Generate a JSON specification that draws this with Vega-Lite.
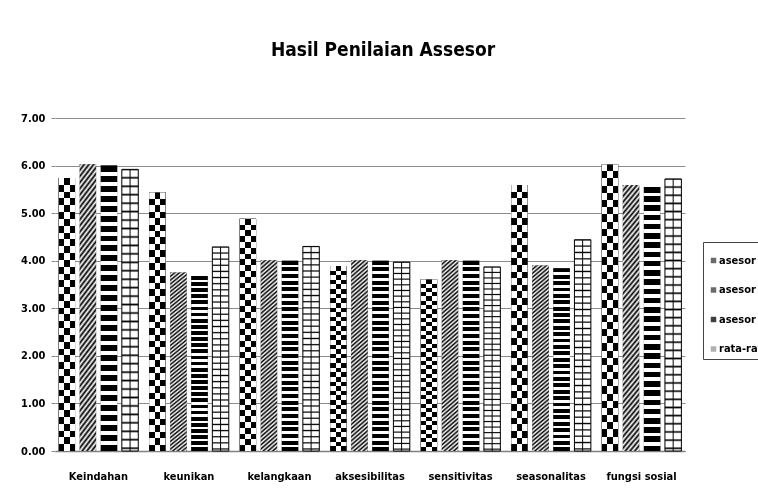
{
  "$schema": "https://vega.github.io/schema/vega-lite/v6.json",
  "width": 630,
  "height": 333,
  "autosize": {"type": "none"},
  "padding": {"left": 55, "top": 118, "right": 73, "bottom": 53},
  "background": "white",
  "config": {
    "font": "Liberation Sans Narrow, DejaVu Sans Condensed, Roboto, sans-serif",
    "view": {"stroke": null}
  },
  "title": {
    "text": "Hasil Penilaian Assesor",
    "fontSize": 19,
    "fontWeight": "bold",
    "color": "black",
    "anchor": "middle",
    "frame": "group",
    "baseline": "alphabetic",
    "offset": 37,
    "dx": 13
  },
  "data": {
    "values": [
      {"k": "Keindahan", "s": "asesor 1", "v": 5.74},
      {"k": "Keindahan", "s": "asesor 2", "v": 6.03},
      {"k": "Keindahan", "s": "asesor 3", "v": 6.0},
      {"k": "Keindahan", "s": "rata-rata", "v": 5.92},
      {"k": "keunikan", "s": "asesor 1", "v": 5.44},
      {"k": "keunikan", "s": "asesor 2", "v": 3.75},
      {"k": "keunikan", "s": "asesor 3", "v": 3.68},
      {"k": "keunikan", "s": "rata-rata", "v": 4.29},
      {"k": "kelangkaan", "s": "asesor 1", "v": 4.88},
      {"k": "kelangkaan", "s": "asesor 2", "v": 4.01},
      {"k": "kelangkaan", "s": "asesor 3", "v": 4.0},
      {"k": "kelangkaan", "s": "rata-rata", "v": 4.3},
      {"k": "aksesibilitas", "s": "asesor 1", "v": 3.89},
      {"k": "aksesibilitas", "s": "asesor 2", "v": 4.01},
      {"k": "aksesibilitas", "s": "asesor 3", "v": 4.0},
      {"k": "aksesibilitas", "s": "rata-rata", "v": 3.97},
      {"k": "sensitivitas", "s": "asesor 1", "v": 3.61},
      {"k": "sensitivitas", "s": "asesor 2", "v": 4.01},
      {"k": "sensitivitas", "s": "asesor 3", "v": 4.0},
      {"k": "sensitivitas", "s": "rata-rata", "v": 3.87},
      {"k": "seasonalitas", "s": "asesor 1", "v": 5.59},
      {"k": "seasonalitas", "s": "asesor 2", "v": 3.9},
      {"k": "seasonalitas", "s": "asesor 3", "v": 3.84},
      {"k": "seasonalitas", "s": "rata-rata", "v": 4.44},
      {"k": "fungsi sosial", "s": "asesor 1", "v": 6.03},
      {"k": "fungsi sosial", "s": "asesor 2", "v": 5.59},
      {"k": "fungsi sosial", "s": "asesor 3", "v": 5.55},
      {"k": "fungsi sosial", "s": "rata-rata", "v": 5.72}
    ]
  },
  "encoding": {
    "x": {
      "field": "k",
      "type": "nominal",
      "sort": ["Keindahan", "keunikan", "kelangkaan", "aksesibilitas", "sensitivitas", "seasonalitas", "fungsi sosial"],
      "scale": {"paddingInner": 0.12, "paddingOuter": 0.04},
      "axis": {
        "title": null,
        "labelAngle": 0,
        "ticks": false,
        "domainColor": "#808080",
        "domainWidth": 1.5,
        "labelFontSize": 11,
        "labelFontWeight": "bold",
        "labelColor": "black",
        "labelPadding": 19,
        "grid": false
      }
    },
    "xOffset": {
      "field": "s",
      "type": "nominal",
      "scale": {"domain": ["asesor 1", "asesor 2", "asesor 3", "rata-rata"], "paddingInner": 0.22, "paddingOuter": 0}
    },
    "y": {
      "field": "v",
      "type": "quantitative",
      "scale": {"domain": [0, 7], "nice": false},
      "axis": {
        "title": null,
        "values": [0, 1, 2, 3, 4, 5, 6, 7],
        "format": ".2f",
        "domain": false,
        "ticks": true,
        "tickSize": 4,
        "tickColor": "#8c8c8c",
        "gridColor": "#8c8c8c",
        "gridWidth": 1,
        "labelPadding": 6,
        "labelFontSize": 11,
        "labelFontWeight": "bold",
        "labelColor": "black"
      }
    }
  },
  "layer": [
    {
      "mark": {"type": "bar"},
      "encoding": {
        "color": {
          "field": "s",
          "type": "nominal",
          "scale": {"domain": ["asesor 1", "asesor 2", "asesor 3", "rata-rata"], "range": ["#6a6a6a", "#6a6a6a", "#404040", "#b0b0b0"]},
          "legend": {
            "orient": "none",
            "legendX": 648,
            "legendY": 124,
            "title": " ",
            "titleFontSize": 8,
            "titlePadding": 0,
            "padding": 5,
            "strokeColor": "#444",
            "fillColor": "white",
            "symbolType": "square",
            "symbolSize": 30,
            "symbolStrokeWidth": 0,
            "labelFontSize": 11,
            "labelFontWeight": "bold",
            "labelColor": "black",
            "labelOffset": 0,
            "rowPadding": 17.5
          }
        }
      }
    },
    {
      "transform": [{"filter": "datum.s === 'asesor 1'"}],
      "mark": {
        "type": "bar",
        "fill": {"gradient": "linear", "x1": 0, "y1": 0, "x2": 1, "y2": 0, "stops": [
          {"offset": 0, "color": "black"}, {"offset": 0.333, "color": "black"}, {"offset": 0.333, "color": "white"},
          {"offset": 0.667, "color": "white"}, {"offset": 0.667, "color": "black"}, {"offset": 1, "color": "black"}
        ]}
      }
    },
    {
      "transform": [{"filter": "datum.s === 'asesor 1'"}],
      "mark": {
        "type": "bar",
        "blend": "difference",
        "fill": {"gradient": "linear", "x1": 0, "y1": 0, "x2": 0, "y2": 1, "stops": [
          {"offset": 0, "color": "white"}, {"offset": 0.025, "color": "white"}, {"offset": 0.025, "color": "black"}, {"offset": 0.05, "color": "black"},
          {"offset": 0.05, "color": "white"}, {"offset": 0.075, "color": "white"}, {"offset": 0.075, "color": "black"}, {"offset": 0.1, "color": "black"},
          {"offset": 0.1, "color": "white"}, {"offset": 0.125, "color": "white"}, {"offset": 0.125, "color": "black"}, {"offset": 0.15, "color": "black"},
          {"offset": 0.15, "color": "white"}, {"offset": 0.175, "color": "white"}, {"offset": 0.175, "color": "black"}, {"offset": 0.2, "color": "black"},
          {"offset": 0.2, "color": "white"}, {"offset": 0.225, "color": "white"}, {"offset": 0.225, "color": "black"}, {"offset": 0.25, "color": "black"},
          {"offset": 0.25, "color": "white"}, {"offset": 0.275, "color": "white"}, {"offset": 0.275, "color": "black"}, {"offset": 0.3, "color": "black"},
          {"offset": 0.3, "color": "white"}, {"offset": 0.325, "color": "white"}, {"offset": 0.325, "color": "black"}, {"offset": 0.35, "color": "black"},
          {"offset": 0.35, "color": "white"}, {"offset": 0.375, "color": "white"}, {"offset": 0.375, "color": "black"}, {"offset": 0.4, "color": "black"},
          {"offset": 0.4, "color": "white"}, {"offset": 0.425, "color": "white"}, {"offset": 0.425, "color": "black"}, {"offset": 0.45, "color": "black"},
          {"offset": 0.45, "color": "white"}, {"offset": 0.475, "color": "white"}, {"offset": 0.475, "color": "black"}, {"offset": 0.5, "color": "black"},
          {"offset": 0.5, "color": "white"}, {"offset": 0.525, "color": "white"}, {"offset": 0.525, "color": "black"}, {"offset": 0.55, "color": "black"},
          {"offset": 0.55, "color": "white"}, {"offset": 0.575, "color": "white"}, {"offset": 0.575, "color": "black"}, {"offset": 0.6, "color": "black"},
          {"offset": 0.6, "color": "white"}, {"offset": 0.625, "color": "white"}, {"offset": 0.625, "color": "black"}, {"offset": 0.65, "color": "black"},
          {"offset": 0.65, "color": "white"}, {"offset": 0.675, "color": "white"}, {"offset": 0.675, "color": "black"}, {"offset": 0.7, "color": "black"},
          {"offset": 0.7, "color": "white"}, {"offset": 0.725, "color": "white"}, {"offset": 0.725, "color": "black"}, {"offset": 0.75, "color": "black"},
          {"offset": 0.75, "color": "white"}, {"offset": 0.775, "color": "white"}, {"offset": 0.775, "color": "black"}, {"offset": 0.8, "color": "black"},
          {"offset": 0.8, "color": "white"}, {"offset": 0.825, "color": "white"}, {"offset": 0.825, "color": "black"}, {"offset": 0.85, "color": "black"},
          {"offset": 0.85, "color": "white"}, {"offset": 0.875, "color": "white"}, {"offset": 0.875, "color": "black"}, {"offset": 0.9, "color": "black"},
          {"offset": 0.9, "color": "white"}, {"offset": 0.925, "color": "white"}, {"offset": 0.925, "color": "black"}, {"offset": 0.95, "color": "black"},
          {"offset": 0.95, "color": "white"}, {"offset": 0.975, "color": "white"}, {"offset": 0.975, "color": "black"}, {"offset": 1, "color": "black"}
        ]}
      }
    },
    {
      "transform": [{"filter": "datum.s === 'asesor 2'"}],
      "mark": {
        "type": "bar",
        "fill": {"gradient": "linear", "x1": 0, "y1": 0, "x2": 0.08, "y2": 1.07, "stops": [
          {"offset": 0, "color": "black"}, {"offset": 0.01, "color": "white"}, {"offset": 0.02, "color": "black"}, {"offset": 0.03, "color": "white"},
          {"offset": 0.04, "color": "black"}, {"offset": 0.05, "color": "white"}, {"offset": 0.06, "color": "black"}, {"offset": 0.07, "color": "white"},
          {"offset": 0.08, "color": "black"}, {"offset": 0.09, "color": "white"}, {"offset": 0.1, "color": "black"}, {"offset": 0.11, "color": "white"},
          {"offset": 0.12, "color": "black"}, {"offset": 0.13, "color": "white"}, {"offset": 0.14, "color": "black"}, {"offset": 0.15, "color": "white"},
          {"offset": 0.16, "color": "black"}, {"offset": 0.17, "color": "white"}, {"offset": 0.18, "color": "black"}, {"offset": 0.19, "color": "white"},
          {"offset": 0.2, "color": "black"}, {"offset": 0.21, "color": "white"}, {"offset": 0.22, "color": "black"}, {"offset": 0.23, "color": "white"},
          {"offset": 0.24, "color": "black"}, {"offset": 0.25, "color": "white"}, {"offset": 0.26, "color": "black"}, {"offset": 0.27, "color": "white"},
          {"offset": 0.28, "color": "black"}, {"offset": 0.29, "color": "white"}, {"offset": 0.3, "color": "black"}, {"offset": 0.31, "color": "white"},
          {"offset": 0.32, "color": "black"}, {"offset": 0.33, "color": "white"}, {"offset": 0.34, "color": "black"}, {"offset": 0.35, "color": "white"},
          {"offset": 0.36, "color": "black"}, {"offset": 0.37, "color": "white"}, {"offset": 0.38, "color": "black"}, {"offset": 0.39, "color": "white"},
          {"offset": 0.4, "color": "black"}, {"offset": 0.41, "color": "white"}, {"offset": 0.42, "color": "black"}, {"offset": 0.43, "color": "white"},
          {"offset": 0.44, "color": "black"}, {"offset": 0.45, "color": "white"}, {"offset": 0.46, "color": "black"}, {"offset": 0.47, "color": "white"},
          {"offset": 0.48, "color": "black"}, {"offset": 0.49, "color": "white"}, {"offset": 0.5, "color": "black"}, {"offset": 0.51, "color": "white"},
          {"offset": 0.52, "color": "black"}, {"offset": 0.53, "color": "white"}, {"offset": 0.54, "color": "black"}, {"offset": 0.55, "color": "white"},
          {"offset": 0.56, "color": "black"}, {"offset": 0.57, "color": "white"}, {"offset": 0.58, "color": "black"}, {"offset": 0.59, "color": "white"},
          {"offset": 0.6, "color": "black"}, {"offset": 0.61, "color": "white"}, {"offset": 0.62, "color": "black"}, {"offset": 0.63, "color": "white"},
          {"offset": 0.64, "color": "black"}, {"offset": 0.65, "color": "white"}, {"offset": 0.66, "color": "black"}, {"offset": 0.67, "color": "white"},
          {"offset": 0.68, "color": "black"}, {"offset": 0.69, "color": "white"}, {"offset": 0.7, "color": "black"}, {"offset": 0.71, "color": "white"},
          {"offset": 0.72, "color": "black"}, {"offset": 0.73, "color": "white"}, {"offset": 0.74, "color": "black"}, {"offset": 0.75, "color": "white"},
          {"offset": 0.76, "color": "black"}, {"offset": 0.77, "color": "white"}, {"offset": 0.78, "color": "black"}, {"offset": 0.79, "color": "white"},
          {"offset": 0.8, "color": "black"}, {"offset": 0.81, "color": "white"}, {"offset": 0.82, "color": "black"}, {"offset": 0.83, "color": "white"},
          {"offset": 0.84, "color": "black"}, {"offset": 0.85, "color": "white"}, {"offset": 0.86, "color": "black"}, {"offset": 0.87, "color": "white"},
          {"offset": 0.88, "color": "black"}, {"offset": 0.89, "color": "white"}, {"offset": 0.9, "color": "black"}, {"offset": 0.91, "color": "white"},
          {"offset": 0.92, "color": "black"}, {"offset": 0.93, "color": "white"}, {"offset": 0.94, "color": "black"}, {"offset": 0.95, "color": "white"},
          {"offset": 0.96, "color": "black"}, {"offset": 0.97, "color": "white"}, {"offset": 0.98, "color": "black"}, {"offset": 0.99, "color": "white"},
          {"offset": 1, "color": "black"}
        ]}
      }
    },
    {
      "transform": [{"filter": "datum.s === 'asesor 3'"}],
      "mark": {
        "type": "bar",
        "fill": {"gradient": "linear", "x1": 0, "y1": 0, "x2": 0, "y2": 1, "stops": [
          {"offset": 0, "color": "black"}, {"offset": 0.021, "color": "black"}, {"offset": 0.021, "color": "white"}, {"offset": 0.035, "color": "white"},
          {"offset": 0.035, "color": "black"}, {"offset": 0.056, "color": "black"}, {"offset": 0.056, "color": "white"}, {"offset": 0.07, "color": "white"},
          {"offset": 0.07, "color": "black"}, {"offset": 0.091, "color": "black"}, {"offset": 0.091, "color": "white"}, {"offset": 0.105, "color": "white"},
          {"offset": 0.105, "color": "black"}, {"offset": 0.126, "color": "black"}, {"offset": 0.126, "color": "white"}, {"offset": 0.14, "color": "white"},
          {"offset": 0.14, "color": "black"}, {"offset": 0.161, "color": "black"}, {"offset": 0.161, "color": "white"}, {"offset": 0.175, "color": "white"},
          {"offset": 0.175, "color": "black"}, {"offset": 0.196, "color": "black"}, {"offset": 0.196, "color": "white"}, {"offset": 0.21, "color": "white"},
          {"offset": 0.21, "color": "black"}, {"offset": 0.231, "color": "black"}, {"offset": 0.231, "color": "white"}, {"offset": 0.245, "color": "white"},
          {"offset": 0.245, "color": "black"}, {"offset": 0.266, "color": "black"}, {"offset": 0.266, "color": "white"}, {"offset": 0.28, "color": "white"},
          {"offset": 0.28, "color": "black"}, {"offset": 0.301, "color": "black"}, {"offset": 0.301, "color": "white"}, {"offset": 0.315, "color": "white"},
          {"offset": 0.315, "color": "black"}, {"offset": 0.336, "color": "black"}, {"offset": 0.336, "color": "white"}, {"offset": 0.35, "color": "white"},
          {"offset": 0.35, "color": "black"}, {"offset": 0.371, "color": "black"}, {"offset": 0.371, "color": "white"}, {"offset": 0.385, "color": "white"},
          {"offset": 0.385, "color": "black"}, {"offset": 0.406, "color": "black"}, {"offset": 0.406, "color": "white"}, {"offset": 0.42, "color": "white"},
          {"offset": 0.42, "color": "black"}, {"offset": 0.441, "color": "black"}, {"offset": 0.441, "color": "white"}, {"offset": 0.455, "color": "white"},
          {"offset": 0.455, "color": "black"}, {"offset": 0.476, "color": "black"}, {"offset": 0.476, "color": "white"}, {"offset": 0.49, "color": "white"},
          {"offset": 0.49, "color": "black"}, {"offset": 0.511, "color": "black"}, {"offset": 0.511, "color": "white"}, {"offset": 0.525, "color": "white"},
          {"offset": 0.525, "color": "black"}, {"offset": 0.546, "color": "black"}, {"offset": 0.546, "color": "white"}, {"offset": 0.56, "color": "white"},
          {"offset": 0.56, "color": "black"}, {"offset": 0.581, "color": "black"}, {"offset": 0.581, "color": "white"}, {"offset": 0.595, "color": "white"},
          {"offset": 0.595, "color": "black"}, {"offset": 0.616, "color": "black"}, {"offset": 0.616, "color": "white"}, {"offset": 0.63, "color": "white"},
          {"offset": 0.63, "color": "black"}, {"offset": 0.651, "color": "black"}, {"offset": 0.651, "color": "white"}, {"offset": 0.665, "color": "white"},
          {"offset": 0.665, "color": "black"}, {"offset": 0.686, "color": "black"}, {"offset": 0.686, "color": "white"}, {"offset": 0.7, "color": "white"},
          {"offset": 0.7, "color": "black"}, {"offset": 0.721, "color": "black"}, {"offset": 0.721, "color": "white"}, {"offset": 0.735, "color": "white"},
          {"offset": 0.735, "color": "black"}, {"offset": 0.756, "color": "black"}, {"offset": 0.756, "color": "white"}, {"offset": 0.77, "color": "white"},
          {"offset": 0.77, "color": "black"}, {"offset": 0.791, "color": "black"}, {"offset": 0.791, "color": "white"}, {"offset": 0.805, "color": "white"},
          {"offset": 0.805, "color": "black"}, {"offset": 0.826, "color": "black"}, {"offset": 0.826, "color": "white"}, {"offset": 0.84, "color": "white"},
          {"offset": 0.84, "color": "black"}, {"offset": 0.861, "color": "black"}, {"offset": 0.861, "color": "white"}, {"offset": 0.875, "color": "white"},
          {"offset": 0.875, "color": "black"}, {"offset": 0.896, "color": "black"}, {"offset": 0.896, "color": "white"}, {"offset": 0.91, "color": "white"},
          {"offset": 0.91, "color": "black"}, {"offset": 0.931, "color": "black"}, {"offset": 0.931, "color": "white"}, {"offset": 0.945, "color": "white"},
          {"offset": 0.945, "color": "black"}, {"offset": 0.966, "color": "black"}, {"offset": 0.966, "color": "white"}, {"offset": 0.98, "color": "white"},
          {"offset": 0.98, "color": "black"}, {"offset": 1, "color": "black"}
        ]}
      }
    },
    {
      "transform": [{"filter": "datum.s === 'rata-rata'"}],
      "mark": {
        "type": "bar",
        "fill": {"gradient": "linear", "x1": 0, "y1": 0, "x2": 0, "y2": 1, "stops": [
          {"offset": 0, "color": "black"}, {"offset": 0.006, "color": "white"}, {"offset": 0.024, "color": "white"},
          {"offset": 0.03, "color": "black"}, {"offset": 0.036, "color": "white"}, {"offset": 0.054, "color": "white"},
          {"offset": 0.06, "color": "black"}, {"offset": 0.066, "color": "white"}, {"offset": 0.084, "color": "white"},
          {"offset": 0.09, "color": "black"}, {"offset": 0.096, "color": "white"}, {"offset": 0.114, "color": "white"},
          {"offset": 0.12, "color": "black"}, {"offset": 0.126, "color": "white"}, {"offset": 0.144, "color": "white"},
          {"offset": 0.15, "color": "black"}, {"offset": 0.156, "color": "white"}, {"offset": 0.174, "color": "white"},
          {"offset": 0.18, "color": "black"}, {"offset": 0.186, "color": "white"}, {"offset": 0.204, "color": "white"},
          {"offset": 0.21, "color": "black"}, {"offset": 0.216, "color": "white"}, {"offset": 0.234, "color": "white"},
          {"offset": 0.24, "color": "black"}, {"offset": 0.246, "color": "white"}, {"offset": 0.264, "color": "white"},
          {"offset": 0.27, "color": "black"}, {"offset": 0.276, "color": "white"}, {"offset": 0.294, "color": "white"},
          {"offset": 0.3, "color": "black"}, {"offset": 0.306, "color": "white"}, {"offset": 0.324, "color": "white"},
          {"offset": 0.33, "color": "black"}, {"offset": 0.336, "color": "white"}, {"offset": 0.354, "color": "white"},
          {"offset": 0.36, "color": "black"}, {"offset": 0.366, "color": "white"}, {"offset": 0.384, "color": "white"},
          {"offset": 0.39, "color": "black"}, {"offset": 0.396, "color": "white"}, {"offset": 0.414, "color": "white"},
          {"offset": 0.42, "color": "black"}, {"offset": 0.426, "color": "white"}, {"offset": 0.444, "color": "white"},
          {"offset": 0.45, "color": "black"}, {"offset": 0.456, "color": "white"}, {"offset": 0.474, "color": "white"},
          {"offset": 0.48, "color": "black"}, {"offset": 0.486, "color": "white"}, {"offset": 0.504, "color": "white"},
          {"offset": 0.51, "color": "black"}, {"offset": 0.516, "color": "white"}, {"offset": 0.534, "color": "white"},
          {"offset": 0.54, "color": "black"}, {"offset": 0.546, "color": "white"}, {"offset": 0.564, "color": "white"},
          {"offset": 0.57, "color": "black"}, {"offset": 0.576, "color": "white"}, {"offset": 0.594, "color": "white"},
          {"offset": 0.6, "color": "black"}, {"offset": 0.606, "color": "white"}, {"offset": 0.624, "color": "white"},
          {"offset": 0.63, "color": "black"}, {"offset": 0.636, "color": "white"}, {"offset": 0.654, "color": "white"},
          {"offset": 0.66, "color": "black"}, {"offset": 0.666, "color": "white"}, {"offset": 0.684, "color": "white"},
          {"offset": 0.69, "color": "black"}, {"offset": 0.696, "color": "white"}, {"offset": 0.714, "color": "white"},
          {"offset": 0.72, "color": "black"}, {"offset": 0.726, "color": "white"}, {"offset": 0.744, "color": "white"},
          {"offset": 0.75, "color": "black"}, {"offset": 0.756, "color": "white"}, {"offset": 0.774, "color": "white"},
          {"offset": 0.78, "color": "black"}, {"offset": 0.786, "color": "white"}, {"offset": 0.804, "color": "white"},
          {"offset": 0.81, "color": "black"}, {"offset": 0.816, "color": "white"}, {"offset": 0.834, "color": "white"},
          {"offset": 0.84, "color": "black"}, {"offset": 0.846, "color": "white"}, {"offset": 0.864, "color": "white"},
          {"offset": 0.87, "color": "black"}, {"offset": 0.876, "color": "white"}, {"offset": 0.894, "color": "white"},
          {"offset": 0.9, "color": "black"}, {"offset": 0.906, "color": "white"}, {"offset": 0.924, "color": "white"},
          {"offset": 0.93, "color": "black"}, {"offset": 0.936, "color": "white"}, {"offset": 0.954, "color": "white"},
          {"offset": 0.96, "color": "black"}, {"offset": 0.966, "color": "white"}, {"offset": 0.984, "color": "white"},
          {"offset": 0.99, "color": "black"}, {"offset": 0.996, "color": "white"}, {"offset": 1, "color": "white"}
        ]}
      }
    },
    {
      "transform": [{"filter": "datum.s === 'rata-rata'"}],
      "mark": {
        "type": "bar",
        "blend": "multiply",
        "stroke": "black",
        "strokeWidth": 1,
        "fill": {"gradient": "linear", "x1": 0, "y1": 0, "x2": 1, "y2": 0, "stops": [
          {"offset": 0, "color": "white"}, {"offset": 0.44, "color": "white"}, {"offset": 0.5, "color": "black"},
          {"offset": 0.56, "color": "white"}, {"offset": 1, "color": "white"}
        ]}
      }
    }
  ]
}
